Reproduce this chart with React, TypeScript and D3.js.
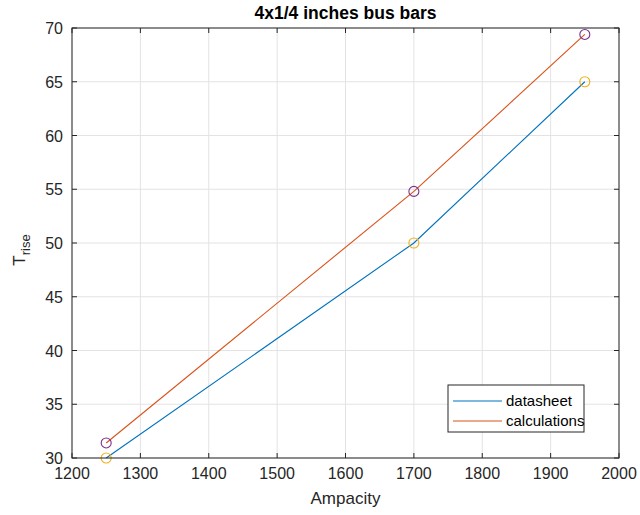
import React from 'react';
import * as d3 from 'd3';

// values
const ampacity = [1250, 1700, 1950];
const datasheet = [30, 50, 65];
const calculations = [31.4, 54.8, 69.4];
const xTicks = [1200, 1300, 1400, 1500, 1600, 1700, 1800, 1900, 2000];
const yTicks = [30, 35, 40, 45, 50, 55, 60, 65, 70];
const seriesNames = ['datasheet', 'calculations'];

const W = 640;
const H = 515;
const margin = { top: 28, right: 21, bottom: 57, left: 72 };
const font = '"Liberation Sans", Arial, Helvetica, sans-serif';
const textColor = '#262626';
const axisColor = '#262626';
const gridColor = '#e3e3e3';
const lineColors = ['#0072BD', '#D95319'];
const markerColors = ['#EDB120', '#7E2F8E'];

export default function App() {
  const x = d3.scaleLinear().domain([1200, 2000]).range([margin.left, W - margin.right]);
  const y = d3.scaleLinear().domain([30, 70]).range([H - margin.bottom, margin.top]);
  const x0 = x.range()[0], x1 = x.range()[1];
  const y0 = y.range()[0], y1 = y.range()[1];

  const line = d3.line<number>()
    .x((_, i) => x(ampacity[i]))
    .y(d => y(d));

  const series = [datasheet, calculations];
  const tick = 5;

  // legend box
  const lg = { x: 448, y: 385, w: 136, h: 47 };

  return (
    <svg width={W} height={H} style={{ position: 'absolute', left: 0, top: 0, background: '#fff' }}
      fontFamily={font}>
      <rect x={0} y={0} width={W} height={H} fill="#fff" />

      {/* grid */}
      {xTicks.map(t => (
        <line key={'gx' + t} x1={x(t)} x2={x(t)} y1={y0} y2={y1} stroke={gridColor} strokeWidth={1} />
      ))}
      {yTicks.map(t => (
        <line key={'gy' + t} x1={x0} x2={x1} y1={y(t)} y2={y(t)} stroke={gridColor} strokeWidth={1} />
      ))}

      {/* lines */}
      {series.map((s, i) => (
        <path key={'l' + i} d={line(s) || ''} fill="none" stroke={lineColors[i]} strokeWidth={1.1} />
      ))}

      {/* markers */}
      {series.map((s, i) =>
        s.map((v, j) => (
          <circle key={'m' + i + j} cx={x(ampacity[j])} cy={y(v)} r={5}
            fill="none" stroke={markerColors[i]} strokeWidth={1.1} />
        ))
      )}

      {/* box + ticks */}
      <rect x={x0} y={y1} width={x1 - x0} height={y0 - y1} fill="none" stroke={axisColor} strokeWidth={1} />
      {xTicks.map(t => (
        <g key={'tx' + t}>
          <line x1={x(t)} x2={x(t)} y1={y0} y2={y0 - tick} stroke={axisColor} />
          <line x1={x(t)} x2={x(t)} y1={y1} y2={y1 + tick} stroke={axisColor} />
          <text x={x(t)} y={y0 + 21} textAnchor="middle" fontSize={16} fill={textColor}>{t}</text>
        </g>
      ))}
      {yTicks.map(t => (
        <g key={'ty' + t}>
          <line x1={x0} x2={x0 + tick} y1={y(t)} y2={y(t)} stroke={axisColor} />
          <line x1={x1} x2={x1 - tick} y1={y(t)} y2={y(t)} stroke={axisColor} />
          <text x={x0 - 9} y={y(t) + 6} textAnchor="end" fontSize={16} fill={textColor}>{t}</text>
        </g>
      ))}

      {/* labels */}
      <text x={(x0 + x1) / 2} y={19} textAnchor="middle" fontSize={17.5} fontWeight="bold" fill="#000">
        4x1/4 inches bus bars
      </text>
      <text x={(x0 + x1) / 2} y={504} textAnchor="middle" fontSize={17} fill={textColor}>Ampacity</text>
      <text transform={`translate(25, 250) rotate(-90)`} textAnchor="middle" fill={textColor}>
        <tspan fontSize={17}>T</tspan>
        <tspan fontSize={13} dy={5}>rise</tspan>
      </text>

      {/* legend */}
      <rect x={lg.x} y={lg.y} width={lg.w} height={lg.h} fill="#fff" stroke={axisColor} strokeWidth={1} />
      {seriesNames.map((n, i) => (
        <g key={'lg' + n}>
          <line x1={lg.x + 5} x2={lg.x + 54} y1={lg.y + 16 + i * 20} y2={lg.y + 16 + i * 20}
            stroke={lineColors[i]} strokeWidth={1.1} />
          <text x={lg.x + 58} y={lg.y + 21 + i * 20} fontSize={15} fill="#000">{n}</text>
        </g>
      ))}
    </svg>
  );
}
